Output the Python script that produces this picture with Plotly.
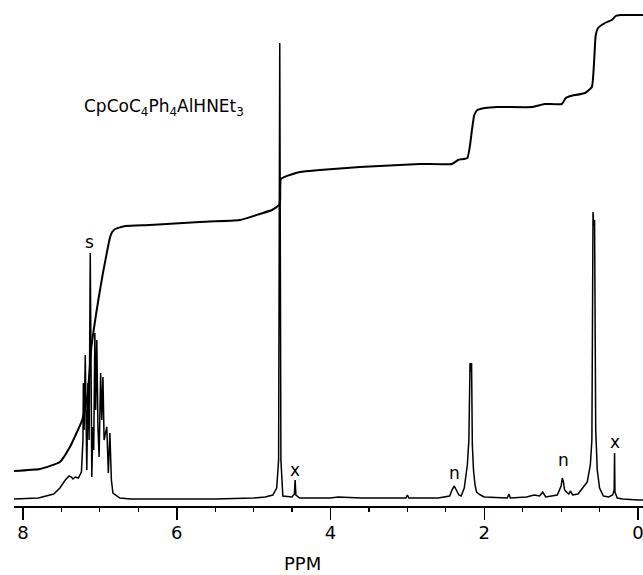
import plotly.graph_objects as go

# ---- spectrum trace (chemical shift in ppm, intensity above baseline) ----
spec_ppm = [8.12, 7.80, 7.60, 7.52, 7.45, 7.40, 7.37, 7.35, 7.32, 7.28, 7.24,
            7.22, 7.215, 7.205, 7.19, 7.18, 7.17, 7.155, 7.14, 7.125, 7.115,
            7.105, 7.09, 7.08, 7.065, 7.055, 7.04, 7.025, 7.01, 6.99, 6.975,
            6.96, 6.945, 6.91, 6.89, 6.87, 6.85, 6.83, 6.74, 6.60, 6.0, 5.5,
            5.0, 4.85, 4.75, 4.70, 4.675, 4.66, 4.645, 4.62, 4.50, 4.47, 4.46,
            4.45, 4.40, 4.0, 3.9, 3.6, 3.3, 3.02, 3.0, 2.98, 2.6, 2.45, 2.42,
            2.39, 2.37, 2.33, 2.30, 2.26, 2.22, 2.20, 2.185, 2.175, 2.165,
            2.155, 2.14, 2.12, 2.10, 2.05, 2.0, 1.8, 1.70, 1.68, 1.66, 1.45,
            1.35, 1.28, 1.24, 1.20, 1.05, 1.00, 0.985, 0.97, 0.955, 0.93, 0.90,
            0.88, 0.85, 0.78, 0.72, 0.66, 0.62, 0.60, 0.585, 0.575, 0.565,
            0.55, 0.53, 0.50, 0.45, 0.38, 0.33, 0.31, 0.305, 0.30, 0.27, 0.2,
            0.0, -0.07]
spec_int = [1, 2, 6, 12, 20, 24, 23, 21, 23, 22, 28,
            60, 117, 70, 145, 40, 30, 117, 60, 247, 30,
            23, 73, 50, 167, 90, 160, 73, 43, 127, 80,
            123, 60, 73, 27, 67, 20, 7, 2, 1, 1, 1,
            2, 3, 5, 12, 40, 457, 40, 4, 3, 6, 20,
            5, 2, 2, 3, 2, 2, 2, 5, 2, 2, 4, 10,
            14, 11, 5, 4, 12, 35, 60, 137, 128, 137,
            55, 30, 15, 8, 5, 3, 2, 2, 6, 2, 3,
            5, 4, 8, 3, 5, 14, 22, 18, 10, 8, 6,
            9, 5, 6, 12, 18, 35, 60, 288, 275, 280,
            70, 30, 12, 4, 3, 5, 10, 47, 8, 2, 1,
            0, 0]

# ---- integral trace ----
int_ppm = [8.12, 7.78, 7.52, 7.39, 7.23, 7.16, 7.11, 7.02, 6.96, 6.91, 6.87,
           6.84, 6.80, 6.67, 6.35, 5.70, 5.18, 4.92, 4.76, 4.67, 4.655, 4.645,
           4.53, 4.40, 4.14, 3.62, 2.84, 2.42, 2.34, 2.22, 2.185, 2.16, 2.13,
           2.09, 1.99, 1.83, 1.37, 1.27, 1.21, 0.99, 0.94, 0.88, 0.69, 0.60,
           0.57, 0.55, 0.52, 0.43, 0.34, 0.29, 0.23, -0.07]
int_val = [29, 31, 38, 53, 80, 105, 153, 200, 227, 247, 262,
           268, 271, 274, 275, 278, 280, 286, 290, 295, 300, 321,
           325, 328, 330, 333, 336, 336, 340, 342, 355, 370, 385,
           390, 392, 393, 393, 395, 396, 396, 402, 404, 407, 413,
           440, 465, 472, 477, 480, 484, 485, 485]

x_ticks = [0, 2, 4, 6, 8]
x_tick_labels = ["0", "2", "4", "6", "8"]

# peak labels
lab_text = ["s", "x", "n", "n", "x"]
lab_ppm = [7.14, 4.46, 2.39, 0.975, 0.30]
lab_val = [258, 30, 27, 40, 58]

compound = "CpCoC<sub>4</sub>Ph<sub>4</sub>AlHNEt<sub>3</sub>"

FONT = "DejaVu Sans"

fig = go.Figure()
fig.add_trace(go.Scatter(x=spec_ppm, y=spec_int, mode="lines",
                         line=dict(color="black", width=1.5),
                         hoverinfo="skip", showlegend=False))
fig.add_trace(go.Scatter(x=int_ppm, y=int_val, mode="lines",
                         line=dict(color="black", width=2, shape="spline",
                                   smoothing=0.4),
                         hoverinfo="skip", showlegend=False))

for t, xp, yv in zip(lab_text, lab_ppm, lab_val):
    fig.add_annotation(x=xp, y=yv, text=t, showarrow=False,
                       font=dict(family=FONT, size=17, color="black"),
                       xanchor="center", yanchor="middle")

fig.add_annotation(x=7.23, y=393, text=compound, showarrow=False,
                   font=dict(family=FONT, size=17, color="black"),
                   xanchor="left", yanchor="middle")

fig.add_annotation(x=4.36, xref="x", y=-0.113, yref="paper", text="PPM",
                   showarrow=False,
                   font=dict(family=FONT, size=18, color="black"),
                   xanchor="center", yanchor="middle")

fig.update_xaxes(range=[8.117, -0.065], tickmode="array", tickvals=x_ticks,
                 ticktext=x_tick_labels, ticks="outside", ticklen=12,
                 tickwidth=1.5, tickcolor="black", showline=True,
                 linecolor="black", linewidth=2, showgrid=False,
                 zeroline=False, ticklabeloverflow="allow",
                 ticklabelstandoff=-3,
                 tickfont=dict(family=FONT, size=18, color="black"),
                 minor=dict(dtick=0.5, tick0=0, ticks="outside", ticklen=4,
                            tickwidth=1.2, tickcolor="black", showgrid=False))
fig.update_yaxes(range=[-6, 500], visible=False, showgrid=False,
                 zeroline=False)

fig.update_layout(width=643, height=575,
                  margin=dict(l=14, r=0, t=0, b=69),
                  paper_bgcolor="white", plot_bgcolor="white")

fig.write_html("out.html",
               config={"displayModeBar": False, "staticPlot": True},
               post_script="document.body.style.margin='0px';"
                           "document.body.style.overflow='hidden';")
